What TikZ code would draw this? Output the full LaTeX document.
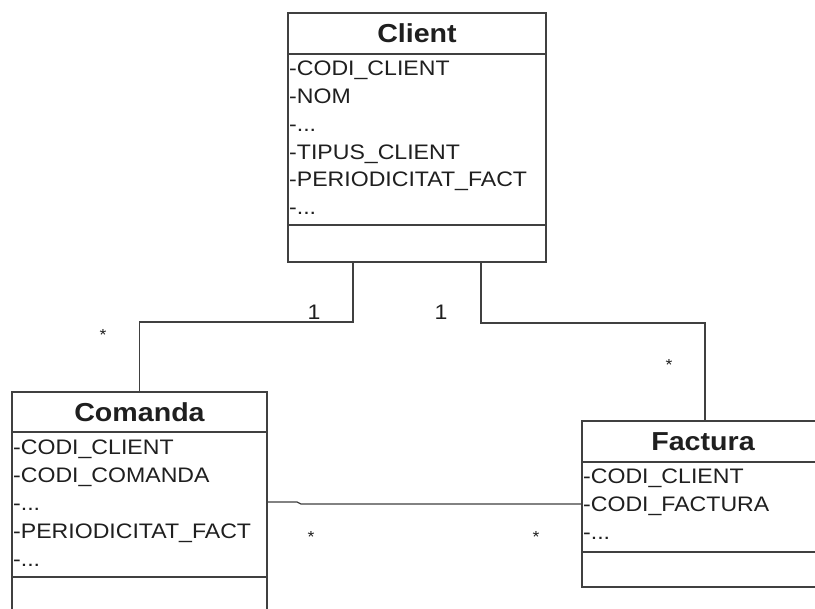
\documentclass[tikz,border=0pt]{standalone}
\usepackage{fontspec}
\setmainfont[FakeStretch=1.1]{Liberation Sans}
\usepackage{tikz}
\definecolor{linegray}{rgb}{0.25,0.25,0.25}
\definecolor{textgray}{rgb}{0.12,0.12,0.12}
\newcommand{\moreattr}{-...}
\newcommand{\attrfont}{\fontsize{21}{25}\selectfont}
\newcommand{\headfont}{\fontsize{26}{30}\selectfont\bfseries}
\newcommand{\starfont}{\fontsize{16}{18}\selectfont}

\begin{document}
\begin{tikzpicture}[x=1pt, y=-1pt,
    part/.style={draw=linegray, line width=1.6pt, rectangle, inner sep=0pt, outer sep=0pt, text=textgray},
    attr/.style={font=\attrfont, text=textgray, anchor=base west, inner sep=0pt},
    mult/.style={font=\attrfont, text=textgray, inner sep=0pt},
    star/.style={font=\starfont, text=textgray, inner sep=0pt},
    assoc/.style={draw=linegray, line width=1.3pt}]
    \clip (0,0) rectangle (815,609);
    \fill[white] (0,0) rectangle (815,609);

    % Client
    \node[part, minimum width=258pt, minimum height=41pt, font=\headfont] (clienthead) at (417,33.5) {Client};
    \node[part, minimum width=258pt, minimum height=171pt, anchor=north] (clientattr) at (clienthead.south) {};
    \node[part, minimum width=258pt, minimum height=37pt, anchor=north] (clientops) at (clientattr.south) {};
    \foreach \t [count=\i] in {-CODI\_CLIENT, -NOM, \moreattr, -TIPUS\_CLIENT, -PERIODICITAT\_FACT, \moreattr}
      \node[attr] (clientattr\i) at ([xshift=1pt, yshift={-22pt-(\i-1)*27.75pt}]clientattr.north west) {\t};

    % Comanda
    \node[part, minimum width=255pt, minimum height=40pt, font=\headfont] (comandahead) at (139.5,412) {Comanda};
    \node[part, minimum width=255pt, minimum height=145pt, anchor=north] (comandaattr) at (comandahead.south) {};
    \node[part, minimum width=255pt, minimum height=37pt, anchor=north] (comandaops) at (comandaattr.south) {};
    \foreach \t [count=\i] in {-CODI\_CLIENT, -CODI\_COMANDA, \moreattr, -PERIODICITAT\_FACT, \moreattr}
      \node[attr] (comandaattr\i) at ([xshift=1pt, yshift={-23pt-(\i-1)*28pt}]comandaattr.north west) {\t};

    % Factura
    \node[part, minimum width=242pt, minimum height=41pt, font=\headfont] (facturahead) at (703,441.5) {Factura};
    \node[part, minimum width=242pt, minimum height=90pt, anchor=north] (facturaattr) at (facturahead.south) {};
    \node[part, minimum width=242pt, minimum height=35pt, anchor=north] (facturaops) at (facturaattr.south) {};
    \foreach \t [count=\i] in {-CODI\_CLIENT, -CODI\_FACTURA, \moreattr}
      \node[attr] (facturaattr\i) at ([xshift=1pt, yshift={-22pt-(\i-1)*28pt}]facturaattr.north west) {\t};

    % associations
    \draw[assoc] ([xshift=-64pt]clientops.south) |- ([yshift=70pt]comandahead.north) -- (comandahead.north);
    \draw[assoc] ([xshift=64pt]clientops.south) |- ([xshift=2pt, yshift=98pt]facturahead.north) -- ([xshift=2pt]facturahead.north);
    \draw[assoc] ([yshift=2.5pt]comandaattr.east) -- ++(30,0) -- ++(4,2) -- ([yshift=3pt]facturaattr.west);

    % multiplicities
    \node[mult] (m1) at (314,312) {1};
    \node[mult] (m2) at (441,312) {1};
    \node[star] (s1) at (103,335) {*};
    \node[star] (s2) at (669,365) {*};
    \node[star] (s3) at (311,537) {*};
    \node[star] (s4) at (536,537) {*};
\end{tikzpicture}
\end{document}
